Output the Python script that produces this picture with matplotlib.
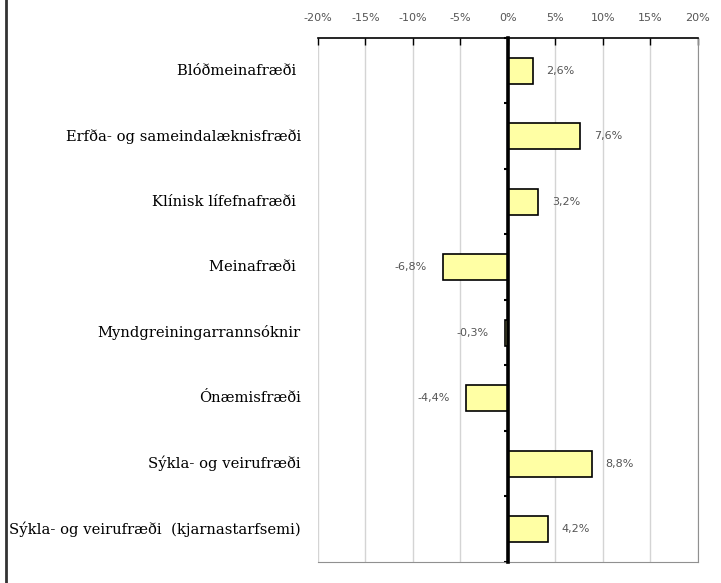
import numpy as np
import matplotlib.pyplot as plt
from matplotlib.lines import Line2D
from matplotlib.transforms import blended_transform_factory

categories = [
    "Blóðmeinafræði ",
    "Erfða- og sameindalæknisfræði",
    "Klínisk lífefnafræði ",
    "Meinafræði ",
    "Myndgreiningarrannsóknir",
    "Ónæmisfræði",
    "Sýkla- og veirufræði",
    "Sýkla- og veirufræði  (kjarnastarfsemi)",
]
values = [2.6, 7.6, 3.2, -6.8, -0.3, -4.4, 8.8, 4.2]
ticks = [-20, -15, -10, -5, 0, 5, 10, 15, 20]

fig = plt.figure(figsize=(7.21, 5.83), dpi=100)
ax = fig.add_axes([0.441, 0.036, 0.527, 0.899])

y = np.arange(len(categories))
ax.barh(y, values, height=0.4, color="#ffffa4", edgecolor="black", linewidth=1.2, zorder=3)

ax.set_xlim(-20, 20)
ax.set_ylim(len(categories) - 0.5, -0.5)

# percent scale on top
ax.xaxis.tick_top()
ax.set_xticks(ticks)
ax.set_xticklabels([f"{t}%" for t in ticks], fontsize=8, family="DejaVu Sans")
ax.tick_params(axis="x", direction="in", length=5, width=1, pad=10.5, colors="black",
               labelcolor="#555555")
ax.grid(axis="x", color="#d4d4d4", linewidth=1, zorder=0)

# zero line acts as the category axis
ax.spines["left"].set_position(("data", 0))
ax.spines["left"].set_linewidth(2.6)
ax.spines["left"].set_zorder(4)
ax.spines["top"].set_linewidth(1.2)
ax.spines["right"].set_color("#909090")
ax.spines["bottom"].set_color("#909090")
ax.axvline(-20, color="#606060", linewidth=1.2, zorder=1)

ax.set_yticks(np.arange(len(categories) + 1) - 0.5)
ax.set_yticklabels([])
ax.tick_params(axis="y", direction="out", length=3, width=1.5)

trans = blended_transform_factory(ax.transAxes, ax.transData)
for yi, name in zip(y, categories):
    ax.text(-0.045, yi, name, transform=trans, ha="right", va="center",
            fontsize=10.65, family="DejaVu Serif")

for yi, v in zip(y, values):
    label = f"{v:.1f}%".replace(".", ",")
    if v >= 0:
        ax.annotate(label, (v, yi), xytext=(10, 0), textcoords="offset points",
                    ha="left", va="center", fontsize=8, color="#555555",
                    family="DejaVu Sans")
    else:
        ax.annotate(label, (v, yi), xytext=(-12, 0), textcoords="offset points",
                    ha="right", va="center", fontsize=8, color="#555555",
                    family="DejaVu Sans")

# outer frame edge
fig.add_artist(Line2D([0.0085, 0.0085], [0, 1], transform=fig.transFigure,
                      color="#333333", linewidth=2))

fig.savefig("out.png", dpi=100)
